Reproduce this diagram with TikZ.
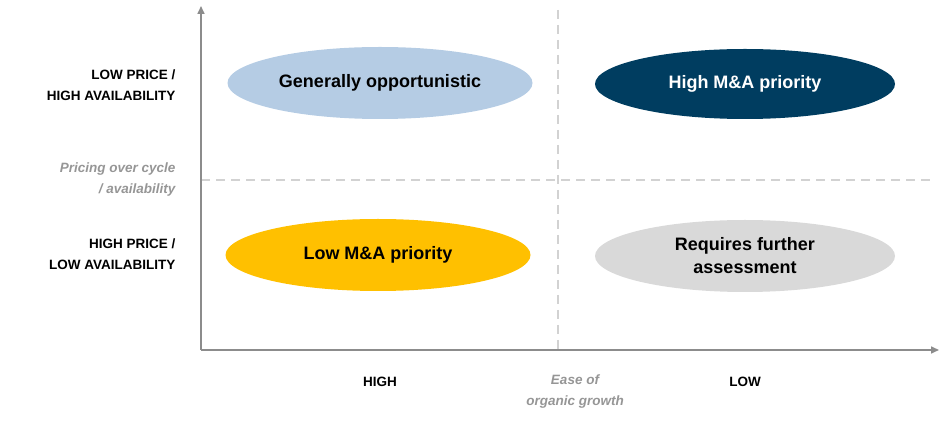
\documentclass[tikz,border=0pt]{standalone}
\usepackage{fontspec}
\setmainfont{Liberation Sans}
\definecolor{axisgray}{RGB}{140,140,140}
\definecolor{dashgray}{RGB}{210,210,210}
\definecolor{lightblue}{RGB}{181,204,228}
\definecolor{navy}{RGB}{0,61,96}
\definecolor{amber}{RGB}{255,192,0}
\definecolor{paleGray}{RGB}{217,217,217}
\definecolor{notegray}{RGB}{150,150,150}
\tikzset{
  blob/.style={ellipse, minimum width=305pt, minimum height=72pt, inner sep=0pt,
    font=\fontsize{18}{23}\selectfont\bfseries, align=center},
  axislabel/.style={font=\fontsize{13.5}{21}\selectfont\bfseries, align=right},
  note/.style={font=\fontsize{13.5}{21}\selectfont\bfseries\itshape, text=notegray},
}
\usetikzlibrary{shapes.geometric,arrows.meta}
\begin{document}
\begin{tikzpicture}[x=1pt,y=-1pt]
                \useasboundingbox (0,0) rectangle (943,427);
                \draw[dashgray, line width=2pt, dash pattern=on 9pt off 6pt] (558,10) -- (558,350);
                \draw[dashgray, line width=2pt, dash pattern=on 9pt off 6pt] (201,180) -- (935,180);
                \draw[axisgray, line width=1.6pt, -{Triangle[length=8pt,width=7pt]}] (201,350) -- (201,6);
                \draw[axisgray, line width=1.6pt, -{Triangle[length=8pt,width=7pt]}] (201,350) -- (939,350);
                \node[blob, fill=lightblue] (opp) at (380,83) {Generally opportunistic};
                \node[blob, fill=navy, text=white, minimum width=300pt, minimum height=70pt] (high) at (745,84) {High M\&A priority};
                \node[blob, fill=amber] (low) at (378,255) {Low M\&A priority};
                \node[blob, fill=paleGray, minimum width=300pt] (req) at (745,256) {Requires further\\assessment};
                \node[axislabel, anchor=east] (lp) at (179,85) {LOW PRICE /\\HIGH AVAILABILITY};
                \node[note, anchor=east, align=right] (pc) at (179,180) {Pricing over cycle\\/ availability};
                \node[axislabel, anchor=east] (hp) at (179,254) {HIGH PRICE /\\LOW AVAILABILITY};
                \node[axislabel] (hi) at (380,382) {HIGH};
                \node[note, align=center] (eo) at (575,392) {Ease of\\organic growth};
                \node[axislabel] (lo) at (745,382) {LOW};
            \end{tikzpicture}
\end{document}
